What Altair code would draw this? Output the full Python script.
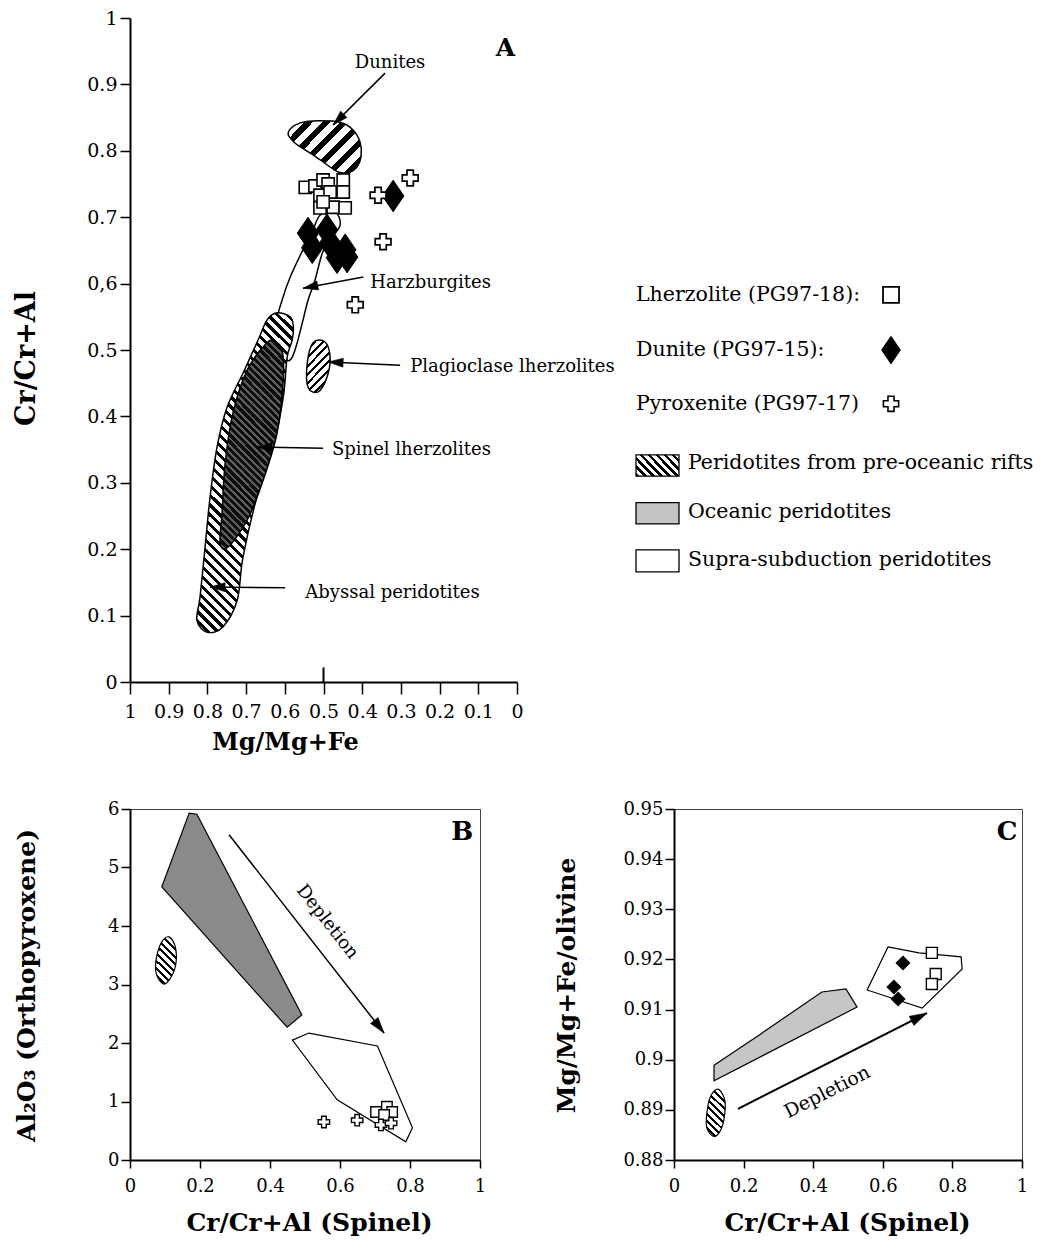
import math
import altair as alt
import pandas as pd

SERIF = "DejaVu Serif"

# ---------------- Panel A : Cr/Cr+Al vs Mg/Mg+Fe ----------------
a_lherz_x = [0.547, 0.522, 0.501, 0.488, 0.449, 0.509, 0.483, 0.449, 0.509, 0.475, 0.444, 0.501]
a_lherz_y = [0.745, 0.747, 0.756, 0.750, 0.756, 0.733, 0.738, 0.738, 0.714, 0.715, 0.714, 0.723]
a_dun_x = [0.540, 0.529, 0.491, 0.483, 0.444, 0.439, 0.465, 0.320]
a_dun_y = [0.676, 0.654, 0.681, 0.661, 0.651, 0.640, 0.639, 0.732]
a_pyr_x = [0.276, 0.359, 0.346, 0.418]
a_pyr_y = [0.759, 0.733, 0.663, 0.568]

# fields (outlines)
dunite_fx = [0.591, 0.584, 0.560, 0.527, 0.457, 0.423, 0.405, 0.403, 0.413, 0.436, 0.462, 0.491, 0.527,
             0.560, 0.576]
dunite_fy = [0.824, 0.834, 0.842, 0.845, 0.843, 0.831, 0.812, 0.791, 0.776, 0.767, 0.768, 0.779, 0.794,
             0.806, 0.813]
harz_fx = [0.617, 0.607, 0.586, 0.553, 0.529, 0.509, 0.470, 0.457, 0.483, 0.503, 0.522, 0.540, 0.553,
           0.568, 0.581, 0.594, 0.597, 0.589]
harz_fy = [0.548, 0.575, 0.610, 0.651, 0.678, 0.703, 0.708, 0.688, 0.666, 0.646, 0.605, 0.575, 0.545,
           0.511, 0.489, 0.485, 0.508, 0.530]
abyss_fx = [0.620, 0.586, 0.578, 0.581, 0.594, 0.604, 0.630, 0.672, 0.708, 0.723, 0.760, 0.801, 0.827,
            0.819, 0.806, 0.793, 0.775, 0.749, 0.708, 0.669, 0.646]
abyss_fy = [0.556, 0.550, 0.535, 0.515, 0.489, 0.429, 0.354, 0.279, 0.188, 0.123, 0.083, 0.075, 0.093,
            0.128, 0.203, 0.279, 0.354, 0.414, 0.465, 0.515, 0.545]
spinel_fx = [0.625, 0.607, 0.604, 0.620, 0.656, 0.697, 0.747, 0.767, 0.762, 0.754, 0.734, 0.697, 0.646]
spinel_fy = [0.512, 0.500, 0.455, 0.375, 0.304, 0.244, 0.203, 0.209, 0.255, 0.330, 0.405, 0.470, 0.511]
plag_fx = [0.527, 0.496, 0.483, 0.491, 0.514, 0.540, 0.542]
plag_fy = [0.511, 0.512, 0.489, 0.459, 0.437, 0.444, 0.480]

a_arrow_x1 = [0.341, 0.397, 0.302, 0.501, 0.599]
a_arrow_y1 = [0.917, 0.610, 0.477, 0.352, 0.142]
a_arrow_x2 = [0.475, 0.553, 0.488, 0.672, 0.793]
a_arrow_y2 = [0.839, 0.593, 0.482, 0.354, 0.143]

a_lab_text = ["Harzburgites", "Plagioclase lherzolites", "Spinel lherzolites", "Abyssal peridotites"]
a_lab_x = [0.379, 0.276, 0.478, 0.547]
a_lab_y = [0.601, 0.474, 0.349, 0.134]
a_dunites_lab = ("Dunites", 0.328, 0.932)
a_letter = ("A", 0.030, 0.955)

a_ticks = [0, 0.1, 0.2, 0.3, 0.4, 0.5, 0.6, 0.7, 0.8, 0.9, 1]

# legend
leg_sym_text = ["Lherzolite (PG97-18):", "Dunite (PG97-15):", "Pyroxenite (PG97-17)"]
leg_sym_y = [0.583, 0.500, 0.419]
leg_box_text = ["Peridotites from pre-oceanic rifts", "Oceanic peridotites", "Supra-subduction peridotites"]
leg_box_y = [0.330, 0.256, 0.184]
leg_box_top = [0.342, 0.270, 0.199]
leg_box_bot = [0.310, 0.238, 0.166]

# ---------------- Panel B : Al2O3 opx vs Cr# spinel ----------------
b_lherz_x = [0.703, 0.734, 0.749, 0.726]
b_lherz_y = [0.82, 0.91, 0.82, 0.77]
b_pyr_x = [0.554, 0.649, 0.717, 0.746]
b_pyr_y = [0.65, 0.68, 0.60, 0.63]
b_gray_x = [0.091, 0.169, 0.191, 0.491, 0.449]
b_gray_y = [4.67, 5.93, 5.91, 2.48, 2.27]
b_white_x = [0.464, 0.511, 0.707, 0.807, 0.788, 0.592]
b_white_y = [2.05, 2.17, 1.95, 0.55, 0.31, 1.03]
b_ell_x = [0.113, 0.131, 0.127, 0.100, 0.077, 0.074, 0.090]
b_ell_y = [3.81, 3.60, 3.25, 3.01, 3.15, 3.40, 3.72]
b_arrow = (0.283, 5.56, 0.726, 2.17)
b_dep = ("Depletion", 0.563, 4.07)
b_letter = ("B", 0.949, 5.61)

# ---------------- Panel C : Mg# olivine vs Cr# spinel ----------------
c_lherz_x = [0.741, 0.752, 0.741]
c_lherz_y = [0.9213, 0.9171, 0.9151]
c_dun_x = [0.658, 0.632, 0.644]
c_dun_y = [0.9193, 0.9145, 0.9121]
c_gray_x = [0.115, 0.244, 0.425, 0.494, 0.526, 0.115]
c_gray_y = [0.8989, 0.9049, 0.9135, 0.9141, 0.9105, 0.8958]
c_white_x = [0.615, 0.704, 0.825, 0.828, 0.713, 0.555]
c_white_y = [0.9225, 0.9213, 0.9205, 0.9181, 0.9103, 0.9139]
c_ell_x = [0.130, 0.147, 0.140, 0.118, 0.094, 0.098, 0.112]
c_ell_y = [0.8940, 0.8915, 0.8870, 0.8847, 0.8865, 0.8910, 0.8935]
c_arrow = (0.184, 0.8902, 0.727, 0.9093)
c_dep = ("Depletion", 0.440, 0.89356)
c_letter = ("C", 0.957, 0.9454)

# ---------------- sizes ----------------
AW, AH = 387, 664
BW, BH = 350, 351
CW, CH = 348, 351

DIAMOND = "M0,-1L0.68,0L0,1L-0.68,0Z"
HEAD = "M0,0L0.6,2L-0.6,2Z"


def hatch(xs, ys, sx, sy, period, orient, c_on, c_off, duty):
    w = max((max(xs) - min(xs)) * abs(sx), 1.0)
    h = max((max(ys) - min(ys)) * abs(sy), 1.0)
    k = (w + h) / (w * w + h * h)
    if orient == "\\":
        vx, vy = k * w, -k * h
    else:
        vx, vy = k * w, k * h
    n = max(1, int(round((w + h) / (math.sqrt(2) * period))))
    stops = []
    for i in range(n):
        a = i / n
        b = (i + duty) / n
        c = (i + 1) / n
        stops += [alt.GradientStop(offset=a, color=c_on), alt.GradientStop(offset=b, color=c_on),
                  alt.GradientStop(offset=b, color=c_off), alt.GradientStop(offset=c, color=c_off)]
    return alt.LinearGradient(gradient="linear", stops=stops,
                              x1=0.5 - vx / 2, y1=0.5 - vy / 2, x2=0.5 + vx / 2, y2=0.5 + vy / 2)


def poly_df(xs, ys):
    return pd.DataFrame({"x": xs, "y": ys, "i": list(range(len(xs)))})


def arrow_df(x1, y1, x2, y2, sx, sy):
    ang = []
    for a, b, c, d in zip(x1, y1, x2, y2):
        dx = (c - a) * sx
        dy = (d - b) * sy
        ang.append(math.degrees(math.atan2(dx, -dy)) % 360)
    return pd.DataFrame({"x": x1, "y": y1, "x2": x2, "y2": y2, "ang": ang})


def axis_common(**kw):
    base = dict(grid=False, labelFont=SERIF, labelColor="black", labelFlush=False, labelOverlap=False,
                domainColor="black", domainWidth=2, tickColor="black", tickWidth=1.5,
                titleFont=SERIF, titleFontWeight="bold", titleColor="black",
                titleAlign="center", titleBaseline="middle", format="~g")
    base.update(kw)
    return alt.Axis(**base)


# ================= Panel A =================
sxA, syA = -AW / 1.0, -AH / 1.0  # px per data unit (x reversed, y up)
axA_x = axis_common(values=a_ticks, title="Mg/Mg+Fe", titleFontSize=24, titleX=155, titleY=60,
                    labelFontSize=19, tickSize=12, labelPadding=8)
axA_y = axis_common(values=a_ticks, title="Cr/Cr+Al", titleFontSize=27, titleAngle=270,
                    titleX=-104, titleY=340, labelFontSize=19, tickSize=10, labelPadding=3,
                    labelExpr="datum.value == 0.6 ? '0,6' : format(datum.value, '~g')")


def XA(field="x"):
    return alt.X(f"{field}:Q", scale=alt.Scale(domain=[0, 1], reverse=True), axis=axA_x)


def YA(field="y"):
    return alt.Y(f"{field}:Q", scale=alt.Scale(domain=[0, 1]), axis=axA_y)


def field_layer(xs, ys, X, Y, fill, interp, sw=1.5):
    return alt.Chart(poly_df(xs, ys)).mark_line(
        interpolate=interp, fill=fill, stroke="black", strokeWidth=sw
    ).encode(x=X(), y=Y(), order="i:Q")


layersA = []
layersA.append(field_layer(harz_fx, harz_fy, XA, YA, "white", "cardinal-closed"))
layersA.append(field_layer(abyss_fx, abyss_fy, XA, YA,
                           hatch(abyss_fx, abyss_fy, sxA, syA, 7, "\\", "black", "white", 0.42),
                           "cardinal-closed"))
layersA.append(field_layer(spinel_fx, spinel_fy, XA, YA,
                           hatch(spinel_fx, spinel_fy, sxA, syA, 5, "\\", "#0d0d0d", "#5e5e5e", 0.6),
                           "cardinal-closed"))
layersA.append(field_layer(plag_fx, plag_fy, XA, YA,
                           hatch(plag_fx, plag_fy, sxA, syA, 6, "/", "black", "white", 0.35),
                           "cardinal-closed"))
layersA.append(field_layer(dunite_fx, dunite_fy, XA, YA,
                           hatch(dunite_fx, dunite_fy, sxA, syA, 12, "/", "black", "white", 0.45),
                           "cardinal-closed"))

# inner tick at 0.5 on the x axis
layersA.append(alt.Chart(pd.DataFrame({"x": [0.5], "y": [0.0], "y2": [0.022]})).mark_rule(
    color="black", strokeWidth=2).encode(x=XA(), y=YA(), y2="y2:Q"))

# arrows
adf = arrow_df(a_arrow_x1, a_arrow_y1, a_arrow_x2, a_arrow_y2, sxA, syA)
layersA.append(alt.Chart(adf).mark_rule(color="black", strokeWidth=1.5).encode(
    x=XA(), y=YA(), x2="x2:Q", y2="y2:Q"))
layersA.append(alt.Chart(adf).mark_point(shape=HEAD, size=225, filled=True, fill="black",
                                         stroke="black", strokeWidth=0.5, opacity=1).encode(
    x=XA("x2"), y=YA("y2"), angle=alt.Angle("ang:Q", scale=None)))

# labels
layersA.append(alt.Chart(pd.DataFrame({"t": a_lab_text, "x": a_lab_x, "y": a_lab_y})).mark_text(
    font=SERIF, fontSize=18, align="left", baseline="middle", color="black").encode(
    x=XA(), y=YA(), text="t:N"))
layersA.append(alt.Chart(pd.DataFrame({"t": [a_dunites_lab[0]], "x": [a_dunites_lab[1]],
                                       "y": [a_dunites_lab[2]]})).mark_text(
    font=SERIF, fontSize=18, align="center", baseline="middle", color="black").encode(
    x=XA(), y=YA(), text="t:N"))
layersA.append(alt.Chart(pd.DataFrame({"t": [a_letter[0]], "x": [a_letter[1]], "y": [a_letter[2]]})).mark_text(
    font=SERIF, fontSize=25, fontWeight="bold", align="center", baseline="middle", color="black").encode(
    x=XA(), y=YA(), text="t:N"))

# data points
layersA.append(alt.Chart(pd.DataFrame({"x": a_dun_x, "y": a_dun_y})).mark_point(
    shape=DIAMOND, size=1000, filled=True, fill="black", stroke="black", strokeWidth=1, opacity=1).encode(
    x=XA(), y=YA()))
layersA.append(alt.Chart(pd.DataFrame({"x": a_lherz_x, "y": a_lherz_y})).mark_point(
    shape="square", size=150, filled=True, fill="white", stroke="black", strokeWidth=1.6, opacity=1).encode(
    x=XA(), y=YA()))
layersA.append(alt.Chart(pd.DataFrame({"x": a_pyr_x, "y": a_pyr_y})).mark_point(
    shape="cross", size=250, filled=True, fill="white", stroke="black", strokeWidth=1.7, opacity=1).encode(
    x=XA(), y=YA()))

# legend (drawn to the right of panel A)
LEG_TEXT_X = 506
LEG_SYM_X = 761
LEG_BOX_X2 = 549
layersA.append(alt.Chart(pd.DataFrame({"t": leg_sym_text + leg_box_text,
                                       "y": leg_sym_y + leg_box_y,
                                       "xo": [LEG_TEXT_X] * 3 + [LEG_BOX_X2 + 9] * 3})).mark_text(
    font=SERIF, fontSize=20.5, align="left", baseline="middle", color="black").encode(
    x=alt.X("xo:Q", scale=None), y=YA(), text="t:N"))
layersA.append(alt.Chart(pd.DataFrame({"y": [leg_sym_y[0]]})).mark_point(
    shape="square", size=256, filled=True, fill="white", stroke="black", strokeWidth=1.8, opacity=1).encode(
    x=alt.value(LEG_SYM_X), y=YA()))
layersA.append(alt.Chart(pd.DataFrame({"y": [leg_sym_y[1]]})).mark_point(
    shape=DIAMOND, size=650, filled=True, fill="black", stroke="black", opacity=1).encode(
    x=alt.value(LEG_SYM_X), y=YA()))
layersA.append(alt.Chart(pd.DataFrame({"y": [leg_sym_y[2]]})).mark_point(
    shape="cross", size=230, filled=True, fill="white", stroke="black", strokeWidth=1.6, opacity=1).encode(
    x=alt.value(LEG_SYM_X), y=YA()))
box_fills = [hatch([0, 1], [0, 1], 43, 21, 6, "\\", "black", "white", 0.4), "#c4c4c4", "white"]
for yt, yb, f in zip(leg_box_top, leg_box_bot, box_fills):
    layersA.append(alt.Chart(pd.DataFrame({"y": [yt], "y2": [yb]})).mark_rect(
        fill=f, stroke="black", strokeWidth=1.3).encode(
        x=alt.value(LEG_TEXT_X), x2=alt.value(LEG_BOX_X2), y=YA(), y2="y2:Q"))

panelA = alt.layer(*layersA).properties(width=AW, height=AH)

# ================= Panel B =================
sxB, syB = BW / 1.0, -BH / 6.0
axB_x = axis_common(values=[0, 0.2, 0.4, 0.6, 0.8, 1], title="Cr/Cr+Al (Spinel)", titleFontSize=25,
                    titleX=179, titleY=62, labelFontSize=18, tickSize=8, labelPadding=9)
axB_y = axis_common(values=[0, 1, 2, 3, 4, 5, 6], title="Al₂O₃ (Orthopyroxene)", titleFontSize=25,
                    titleAngle=270, titleX=-104, titleY=176, labelFontSize=18, tickSize=9, labelPadding=2)


def XB(field="x"):
    return alt.X(f"{field}:Q", scale=alt.Scale(domain=[0, 1]), axis=axB_x)


def YB(field="y"):
    return alt.Y(f"{field}:Q", scale=alt.Scale(domain=[0, 6]), axis=axB_y)


layersB = []
layersB.append(field_layer(b_gray_x, b_gray_y, XB, YB, "#8a8a8a", "linear-closed", 1.2))
layersB.append(field_layer(b_white_x, b_white_y, XB, YB, "white", "linear-closed", 1.2))
layersB.append(field_layer(b_ell_x, b_ell_y, XB, YB,
                           hatch(b_ell_x, b_ell_y, sxB, syB, 5, "\\", "black", "white", 0.4),
                           "cardinal-closed", 1.2))
bdf = arrow_df([b_arrow[0]], [b_arrow[1]], [b_arrow[2]], [b_arrow[3]], sxB, syB)
layersB.append(alt.Chart(bdf).mark_rule(color="black", strokeWidth=1.5).encode(
    x=XB(), y=YB(), x2="x2:Q", y2="y2:Q"))
layersB.append(alt.Chart(bdf).mark_point(shape=HEAD, size=256, filled=True, fill="black",
                                         stroke="black", strokeWidth=0.5, opacity=1).encode(
    x=XB("x2"), y=YB("y2"), angle=alt.Angle("ang:Q", scale=None)))
b_ang = math.degrees(math.atan2((b_arrow[3] - b_arrow[1]) * syB, (b_arrow[2] - b_arrow[0]) * sxB)) % 360
layersB.append(alt.Chart(pd.DataFrame({"t": [b_dep[0]], "x": [b_dep[1]], "y": [b_dep[2]]})).mark_text(
    font=SERIF, fontSize=18, angle=b_ang, align="center", baseline="middle", color="black").encode(
    x=XB(), y=YB(), text="t:N"))
layersB.append(alt.Chart(pd.DataFrame({"t": [b_letter[0]], "x": [b_letter[1]], "y": [b_letter[2]]})).mark_text(
    font=SERIF, fontSize=26, fontWeight="bold", align="center", baseline="middle", color="black").encode(
    x=XB(), y=YB(), text="t:N"))
layersB.append(alt.Chart(pd.DataFrame({"x": b_lherz_x, "y": b_lherz_y})).mark_point(
    shape="square", size=110, filled=True, fill="white", stroke="black", strokeWidth=1.4, opacity=1).encode(
    x=XB(), y=YB()))
layersB.append(alt.Chart(pd.DataFrame({"x": b_pyr_x, "y": b_pyr_y})).mark_point(
    shape="cross", size=130, filled=True, fill="white", stroke="black", strokeWidth=1.4, opacity=1).encode(
    x=XB(), y=YB()))

panelB = alt.layer(*layersB).properties(width=BW, height=BH,
                                        view=alt.ViewBackground(stroke="#444", strokeWidth=1))

# ================= Panel C =================
sxC, syC = CW / 1.0, -CH / 0.07
axC_x = axis_common(values=[0, 0.2, 0.4, 0.6, 0.8, 1], title="Cr/Cr+Al (Spinel)", titleFontSize=25,
                    titleX=173, titleY=62, labelFontSize=18, tickSize=8, labelPadding=9)
axC_y = axis_common(values=[0.88, 0.89, 0.9, 0.91, 0.92, 0.93, 0.94, 0.95], title="Mg/Mg+Fe/olivine",
                    titleFontSize=25, titleAngle=270, titleX=-108, titleY=176, labelFontSize=18,
                    tickSize=9, labelPadding=2)


def XC(field="x"):
    return alt.X(f"{field}:Q", scale=alt.Scale(domain=[0, 1]), axis=axC_x)


def YC(field="y"):
    return alt.Y(f"{field}:Q", scale=alt.Scale(domain=[0.88, 0.95]), axis=axC_y)


layersC = []
layersC.append(field_layer(c_gray_x, c_gray_y, XC, YC, "#c6c6c6", "linear-closed", 1.2))
layersC.append(field_layer(c_white_x, c_white_y, XC, YC, "white", "linear-closed", 1.2))
layersC.append(field_layer(c_ell_x, c_ell_y, XC, YC,
                           hatch(c_ell_x, c_ell_y, sxC, syC, 5, "\\", "black", "white", 0.4),
                           "cardinal-closed", 1.2))
cdf = arrow_df([c_arrow[0]], [c_arrow[1]], [c_arrow[2]], [c_arrow[3]], sxC, syC)
layersC.append(alt.Chart(cdf).mark_rule(color="black", strokeWidth=2).encode(
    x=XC(), y=YC(), x2="x2:Q", y2="y2:Q"))
layersC.append(alt.Chart(cdf).mark_point(shape=HEAD, size=300, filled=True, fill="black",
                                         stroke="black", strokeWidth=0.5, opacity=1).encode(
    x=XC("x2"), y=YC("y2"), angle=alt.Angle("ang:Q", scale=None)))
c_ang = math.degrees(math.atan2((c_arrow[3] - c_arrow[1]) * syC, (c_arrow[2] - c_arrow[0]) * sxC)) % 360
layersC.append(alt.Chart(pd.DataFrame({"t": [c_dep[0]], "x": [c_dep[1]], "y": [c_dep[2]]})).mark_text(
    font=SERIF, fontSize=19, angle=c_ang, align="center", baseline="middle", color="black").encode(
    x=XC(), y=YC(), text="t:N"))
layersC.append(alt.Chart(pd.DataFrame({"t": [c_letter[0]], "x": [c_letter[1]], "y": [c_letter[2]]})).mark_text(
    font=SERIF, fontSize=26, fontWeight="bold", align="center", baseline="middle", color="black").encode(
    x=XC(), y=YC(), text="t:N"))
layersC.append(alt.Chart(pd.DataFrame({"x": c_dun_x, "y": c_dun_y})).mark_point(
    shape="diamond", size=150, filled=True, fill="black", stroke="black", opacity=1).encode(
    x=XC(), y=YC()))
layersC.append(alt.Chart(pd.DataFrame({"x": c_lherz_x, "y": c_lherz_y})).mark_point(
    shape="square", size=121, filled=True, fill="white", stroke="black", strokeWidth=1.4, opacity=1).encode(
    x=XC(), y=YC()))

panelC = alt.layer(*layersC).properties(width=CW, height=CH,
                                        view=alt.ViewBackground(stroke="#444", strokeWidth=1))

bottom = alt.hconcat(panelB, panelC, spacing=194, bounds="flush")
chart = alt.vconcat(panelA, bottom, spacing=127, bounds="flush").properties(
    padding={"left": 130, "top": 18, "right": 913, "bottom": 1222},
    autosize=alt.AutoSizeParams(type="none"),
    background="white",
).configure_view(stroke="transparent")

chart.save("out.html", embed_options={"renderer": "svg", "actions": False})
